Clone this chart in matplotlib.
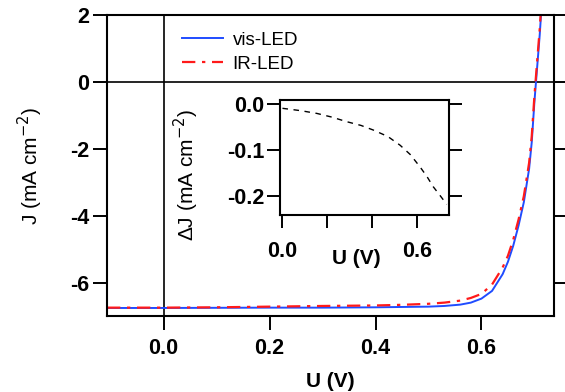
import matplotlib
matplotlib.use("Agg")
import matplotlib.pyplot as plt

plt.rcParams["font.family"] = ["Liberation Sans", "DejaVu Sans"]

# main J-U curves
u_main = [-0.107, 0.0, 0.1, 0.2, 0.3, 0.4, 0.45, 0.5, 0.53, 0.56, 0.58, 0.6,
          0.62, 0.64, 0.65, 0.66, 0.67, 0.68, 0.69, 0.695, 0.70, 0.705, 0.71, 0.7125]
j_vis = [-6.76, -6.76, -6.755, -6.75, -6.75, -6.74, -6.73, -6.72, -6.70, -6.66, -6.60, -6.48,
         -6.25, -5.75, -5.38, -4.9, -4.3, -3.6, -2.6, -1.8, -0.6, 0.4, 1.4, 2.0]
j_ir = [-6.75, -6.75, -6.74, -6.72, -6.70, -6.685, -6.665, -6.635, -6.60, -6.54, -6.46, -6.34,
        -6.06, -5.55, -5.2, -4.72, -4.12, -3.42, -2.42, -1.62, -0.42, 0.58, 1.58, 2.2]

# inset: difference
u_diff = [0.0, 0.08, 0.153, 0.22, 0.287, 0.35, 0.405, 0.47, 0.525, 0.57, 0.614, 0.645, 0.673, 0.705, 0.733]
dj = [-0.010, -0.015, -0.021, -0.029, -0.039, -0.047, -0.057, -0.071, -0.090, -0.110, -0.137,
      -0.158, -0.180, -0.200, -0.218]

W, H = 565, 392
fig = plt.figure(figsize=(W / 100, H / 100), dpi=100)
ax = fig.add_axes([107 / W, 1 - 316 / H, (554 - 107) / W, (316 - 15) / H])

ax.plot(u_main, j_vis, color="#1f4cff", lw=1.4, label="vis-LED")
ax.plot(u_main, j_ir, color="#ff1a1a", lw=1.6, ls=(0, (6, 3, 1.5, 3)), label="IR-LED")
ax.axhline(0, color="black", lw=1.2, zorder=0)
ax.axvline(0, color="black", lw=1.2, zorder=0)
ax.set_xlim(-0.107, 0.737)
ax.set_ylim(-7.0, 2.0)
ax.set_xticks([0.0, 0.2, 0.4, 0.6])
ax.set_yticks([2, 0, -2, -4, -6])
ax.set_xticklabels(["0.0", "0.2", "0.4", "0.6"])
ax.set_yticklabels(["2", "0", "-2", "-4", "-6"])
ax.tick_params(direction="out", length=10, width=1.4, labelsize=15.5, right=True, top=False, pad=3)
ax.tick_params(axis="x", pad=6)
for t in ax.get_xticklabels() + ax.get_yticklabels():
    t.set_fontweight("bold")
for s in ax.spines.values():
    s.set_linewidth(1.5)
ax.set_xlabel("U (V)", fontsize=15, fontweight="bold", labelpad=9)
ax.set_ylabel("J (mA cm$^{-2}$)", fontsize=15, labelpad=18)
ax.legend(loc="upper left", bbox_to_anchor=(0.13, 1.0), frameon=False, fontsize=13.5,
          handlelength=2.2, handletextpad=0.5, labelspacing=0.35)

ins = fig.add_axes([280 / W, 1 - 215 / H, 169 / W, 115 / H])
ins.plot(u_diff, dj, color="black", lw=1.0, ls=(0, (4, 4)))
ins.set_xlim(-0.011, 0.743)
ins.set_ylim(-0.241, 0.008)
ins.set_xticks([0.0, 0.2, 0.4, 0.6])
ins.set_xticklabels(["0.0", "", "", "0.6"])
ins.set_yticks([0.0, -0.1, -0.2])
ins.set_yticklabels(["0.0", "-0.1", "-0.2"])
ins.tick_params(direction="out", length=9.5, width=1.4, labelsize=15.5, right=True, top=False, pad=2)
ins.tick_params(axis="x", pad=9)
for t in ins.get_xticklabels() + ins.get_yticklabels():
    t.set_fontweight("bold")
for s in ins.spines.values():
    s.set_linewidth(1.5)
ins.set_xlabel("U (V)", fontsize=15, fontweight="bold")
ins.xaxis.set_label_coords(0.45, -0.30)
ins.set_ylabel("ΔJ (mA cm$^{-2}$)", fontsize=15)
ins.yaxis.set_label_coords(-0.47, 0.35)

fig.savefig("out.png", dpi=100)
